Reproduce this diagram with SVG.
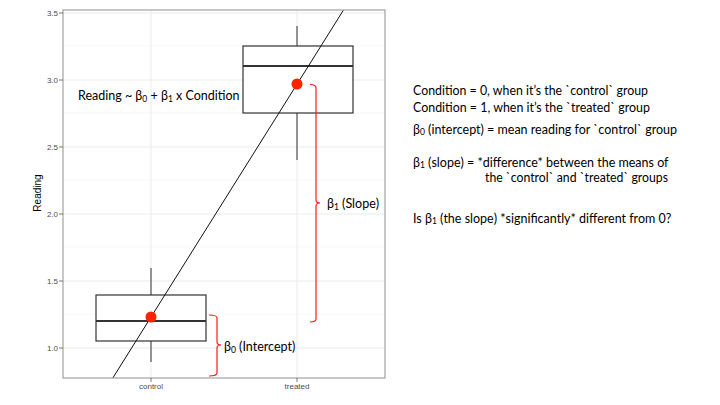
<svg xmlns="http://www.w3.org/2000/svg" width="720" height="405" viewBox="0 0 720 405">
<style>
.gmaj{stroke:#ebebeb;stroke-width:1;fill:none}
.gmin{stroke:#f4f4f4;stroke-width:0.6;fill:none}
.tick{stroke:#555;stroke-width:0.8}
.tl{font-family:"Liberation Sans",Arial,sans-serif;font-size:8px;fill:#4d4d4d}
.box{fill:#fff;stroke:#333;stroke-width:1.2}
.med{stroke:#333;stroke-width:2}
.wh{stroke:#333;stroke-width:1}
.ann{font-family:Lato,"Open Sans",sans-serif;font-size:12.5px;fill:#000}
.sub{font-size:8.5px}
.br{fill:none;stroke:#ff1a1a;stroke-width:1.2}
.dot{fill:#ff2200}
</style>
<defs>
<clipPath id="panel"><rect x="63" y="10" width="322" height="368"/></clipPath>
</defs>
<rect width="720" height="405" fill="#fff"/>
<g id="plot">
<rect x="63" y="10" width="322" height="368" fill="#fff"/>
<g id="grid">
<line class="gmin" x1="63" x2="385" y1="314" y2="314"/>
<line class="gmin" x1="63" x2="385" y1="247" y2="247"/>
<line class="gmin" x1="63" x2="385" y1="180" y2="180"/>
<line class="gmin" x1="63" x2="385" y1="113" y2="113"/>
<line class="gmin" x1="63" x2="385" y1="46" y2="46"/>
<line class="gmaj" x1="63" x2="385" y1="348" y2="348"/>
<line class="gmaj" x1="63" x2="385" y1="281" y2="281"/>
<line class="gmaj" x1="63" x2="385" y1="214" y2="214"/>
<line class="gmaj" x1="63" x2="385" y1="147" y2="147"/>
<line class="gmaj" x1="63" x2="385" y1="80" y2="80"/>
<line class="gmaj" x1="63" x2="385" y1="13" y2="13"/>
<line class="gmaj" x1="151" x2="151" y1="10" y2="378"/>
<line class="gmaj" x1="297" x2="297" y1="10" y2="378"/>
</g>
<g id="box-control">
<line class="wh" x1="151" x2="151" y1="268" y2="295"/>
<line class="wh" x1="151" x2="151" y1="341" y2="362"/>
<rect class="box" x="96" y="295" width="110" height="46"/>
<line class="med" x1="96" x2="206" y1="321" y2="321"/>
</g>
<g id="box-treated">
<line class="wh" x1="297" x2="297" y1="26" y2="46"/>
<line class="wh" x1="297" x2="297" y1="113" y2="160"/>
<rect class="box" x="243" y="46" width="110" height="67"/>
<line class="med" x1="243" x2="353" y1="66" y2="66"/>
</g>
<g id="connectors">
<line x1="112.8" y1="378" x2="343.5" y2="10" stroke="#111" stroke-width="1" clip-path="url(#panel)"/>
<path class="br" d="M310,84.5 Q316,84.5 316,88 L316,200 Q316,203 320,203 Q316,203 316,206 L316,319 Q316,322 310,322"/>
<path class="br" d="M209,315 Q217,315 217,318 L217,342 Q217,345 221,345 Q217,345 217,348 L217,373 Q217,376 209,376" stroke="#ff4545"/>
</g>
<circle id="mean-control" class="dot" cx="151" cy="317" r="5.5"/>
<circle id="mean-treated" class="dot" cx="297" cy="84" r="5.5"/>
<rect x="63" y="10" width="322" height="368" fill="none" stroke="#9a9a9a" stroke-width="1.1"/>
<g id="axes">
<line class="tick" x1="59" x2="63" y1="348" y2="348"/>
<line class="tick" x1="59" x2="63" y1="281" y2="281"/>
<line class="tick" x1="59" x2="63" y1="214" y2="214"/>
<line class="tick" x1="59" x2="63" y1="147" y2="147"/>
<line class="tick" x1="59" x2="63" y1="80" y2="80"/>
<line class="tick" x1="59" x2="63" y1="13" y2="13"/>
<line class="tick" x1="151" x2="151" y1="378" y2="382"/>
<line class="tick" x1="297" x2="297" y1="378" y2="382"/>
<text class="tl" x="58" y="351" text-anchor="end">1.0</text>
<text class="tl" x="58" y="284" text-anchor="end">1.5</text>
<text class="tl" x="58" y="217" text-anchor="end">2.0</text>
<text class="tl" x="58" y="150" text-anchor="end">2.5</text>
<text class="tl" x="58" y="83" text-anchor="end">3.0</text>
<text class="tl" x="58" y="16" text-anchor="end">3.5</text>
<text class="tl" x="151" y="389" text-anchor="middle">control</text>
<text class="tl" x="297" y="389" text-anchor="middle">treated</text>
<text x="41" y="193" transform="rotate(-90 41 193)" text-anchor="middle" font-family="Liberation Sans, Arial, sans-serif" font-size="10" fill="#000">Reading</text>
</g>
</g>
<g id="labels">
<text class="ann" x="78" y="100">Reading ~ β<tspan class="sub" dy="2">0</tspan><tspan dy="-2"> + β</tspan><tspan class="sub" dy="2">1</tspan><tspan dy="-2"> x Condition</tspan></text>
<text class="ann" x="327" y="208">β<tspan class="sub" dy="2">1</tspan><tspan dy="-2"> (Slope)</tspan></text>
<text class="ann" x="224" y="351">β<tspan class="sub" dy="2">0</tspan><tspan dy="-2"> (Intercept)</tspan></text>
</g>
<g id="notes">
<text class="ann" x="413" y="95" textLength="235" lengthAdjust="spacingAndGlyphs">Condition = 0, when it’s the `control` group</text>
<text class="ann" x="413" y="112" textLength="237" lengthAdjust="spacingAndGlyphs">Condition = 1, when it’s the `treated` group</text>
<text class="ann" x="413" y="134">β<tspan class="sub" dy="1">0</tspan><tspan dy="-1"> (intercept) = mean reading for `control` group</tspan></text>
<text class="ann" x="413" y="167">β<tspan class="sub" dy="1">1</tspan><tspan dy="-1"> (slope) = *difference* between the means of</tspan></text>
<text class="ann" x="485" y="182" textLength="183" lengthAdjust="spacingAndGlyphs">the `control` and `treated` groups</text>
<text class="ann" x="413" y="223">Is β<tspan class="sub" dy="1">1</tspan><tspan dy="-1"> (the slope) *significantly* different from 0?</tspan></text>
</g>
</svg>
